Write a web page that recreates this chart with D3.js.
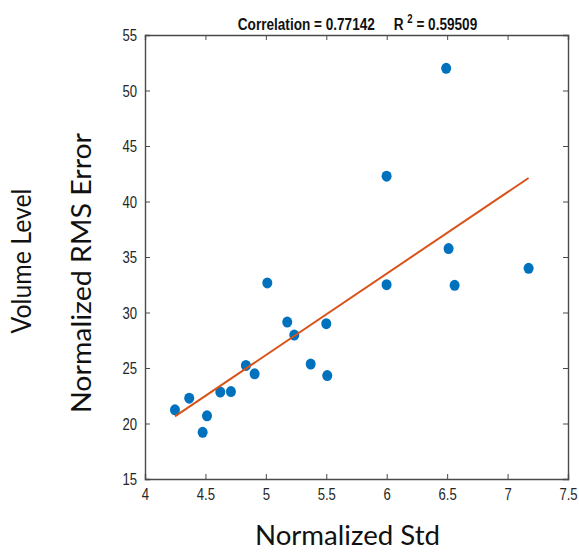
<!DOCTYPE html>
<html>
<head>
<meta charset="utf-8">
<script src="https://cdn.jsdelivr.net/npm/d3@7"></script>
<style>
  html, body { margin: 0; padding: 0; background: #fff; }
  svg { display: block; }
</style>
</head>
<body>
<svg id="chart" width="579" height="555"></svg>
<script>
// ---- data ----
const normStd = [4.248, 4.366, 4.477, 4.513, 4.623, 4.711, 4.835, 4.907, 5.012, 5.177,
                 5.235, 5.371, 5.500, 5.508, 5.999, 5.999, 6.492, 6.512, 6.562, 7.174];
const normRmsError = [21.23, 22.28, 19.21, 20.69, 22.83, 22.88, 25.23, 24.48, 32.66, 29.14,
                      27.97, 25.35, 28.99, 24.32, 42.28, 32.51, 52.0, 35.76, 32.45, 33.98];
const xTicks = [4, 4.5, 5, 5.5, 6, 6.5, 7, 7.5];
const yTicks = [15, 20, 25, 30, 35, 40, 45, 50, 55];
const xDomain = [4, 7.5];
const yDomain = [15, 55];
const titleCorr = "Correlation = 0.77142";
const titleR2 = "= 0.59509";
const xLabel = "Normalized Std";
const yLabel1 = "Volume Level";
const yLabel2 = "Normalized RMS Error";

// ---- layout ----
const svg = d3.select("#chart");
const L = 145, R = 568, T = 35, B = 479;
const x = d3.scaleLinear().domain(xDomain).range([L, R]);
const y = d3.scaleLinear().domain(yDomain).range([B, T]);
const frameColor = "#4a4a4a";
const tickFont = "'Liberation Sans', Arial, sans-serif";
const sx = 0.82; // horizontal condensation to mimic narrow font

const tl = 5;
const gB = svg.append("g").attr("transform", `translate(0,${B})`)
  .call(d3.axisBottom(x).tickValues(xTicks).tickSize(-tl).tickPadding(10).tickFormat(d3.format("")));
const gT = svg.append("g").attr("transform", `translate(0,${T})`)
  .call(d3.axisTop(x).tickValues(xTicks).tickSize(-tl).tickFormat(""));
const gLft = svg.append("g").attr("transform", `translate(${L},0)`)
  .call(d3.axisLeft(y).tickValues(yTicks).tickSize(-tl).tickFormat(d3.format("")));
const gRgt = svg.append("g").attr("transform", `translate(${R},0)`)
  .call(d3.axisRight(y).tickValues(yTicks).tickSize(-tl).tickFormat(""));

[gB, gT, gLft, gRgt].forEach(g => {
  g.select(".domain").attr("stroke", frameColor).attr("stroke-width", 1.4);
  g.selectAll(".tick line").attr("stroke", frameColor).attr("stroke-width", 1);
  g.selectAll(".tick text").attr("fill", "#262626")
    .style("font-family", tickFont).style("font-size", "16px")
    .attr("transform", `scale(${sx},1)`);
});
gB.selectAll(".tick text").attr("dy", "0.71em");
gLft.selectAll(".tick text").attr("x", -8 / sx).attr("dy", "0.36em");

// regression line via least squares from the data
const n = normStd.length;
const mx = d3.mean(normStd), my = d3.mean(normRmsError);
let sxy = 0, sxx = 0;
for (let i = 0; i < n; i++) {
  sxy += (normStd[i] - mx) * (normRmsError[i] - my);
  sxx += (normStd[i] - mx) ** 2;
}
const slope = sxy / sxx, icpt = my - slope * mx;
const xr = d3.extent(normStd);
const fitPts = xr.map(v => [v, icpt + slope * v]);

// points
svg.append("g").selectAll("ellipse")
  .data(normStd.map((v, i) => [v, normRmsError[i]]))
  .join("ellipse")
  .attr("cx", d => x(d[0]))
  .attr("cy", d => y(d[1]))
  .attr("rx", 5)
  .attr("ry", 5.5)
  .attr("fill", "#0072BD");

svg.append("path")
  .datum(fitPts)
  .attr("d", d3.line().x(d => x(d[0])).y(d => y(d[1])))
  .attr("stroke", "#D95319")
  .attr("stroke-width", 2)
  .attr("fill", "none");

// title
const tg = svg.append("g").attr("transform", `translate(${(L + R) / 2 + 1},30) scale(0.8,1)`);
const title = tg.append("text")
  .attr("x", 0).attr("y", 0)
  .attr("text-anchor", "middle")
  .style("font-family", tickFont).style("font-weight", "bold").style("font-size", "17px")
  .attr("fill", "#111");
title.append("tspan").text(titleCorr + "\u00a0\u00a0\u00a0\u00a0\u00a0R\u00a0");
title.append("tspan").attr("dy", -7).style("font-size", "12px").text("2");
title.append("tspan").attr("dy", 7).text("\u00a0" + titleR2);

// axis labels
const labFont = "Lato, 'Open Sans', sans-serif";
svg.append("text")
  .attr("x", 347.5).attr("y", 545)
  .attr("text-anchor", "middle")
  .attr("textLength", 185).attr("lengthAdjust", "spacingAndGlyphs")
  .style("font-family", labFont).style("font-size", "26px").attr("fill", "#111")
  .text(xLabel);
svg.append("text")
  .attr("transform", "translate(31,261) rotate(-90)")
  .attr("text-anchor", "middle")
  .attr("textLength", 145).attr("lengthAdjust", "spacingAndGlyphs")
  .style("font-family", labFont).style("font-size", "26px").attr("fill", "#111")
  .text(yLabel1);
svg.append("text")
  .attr("transform", "translate(91,273) rotate(-90)")
  .attr("text-anchor", "middle")
  .attr("textLength", 280).attr("lengthAdjust", "spacingAndGlyphs")
  .style("font-family", labFont).style("font-size", "26px").attr("fill", "#111")
  .text(yLabel2);
</script>
</body>
</html>
